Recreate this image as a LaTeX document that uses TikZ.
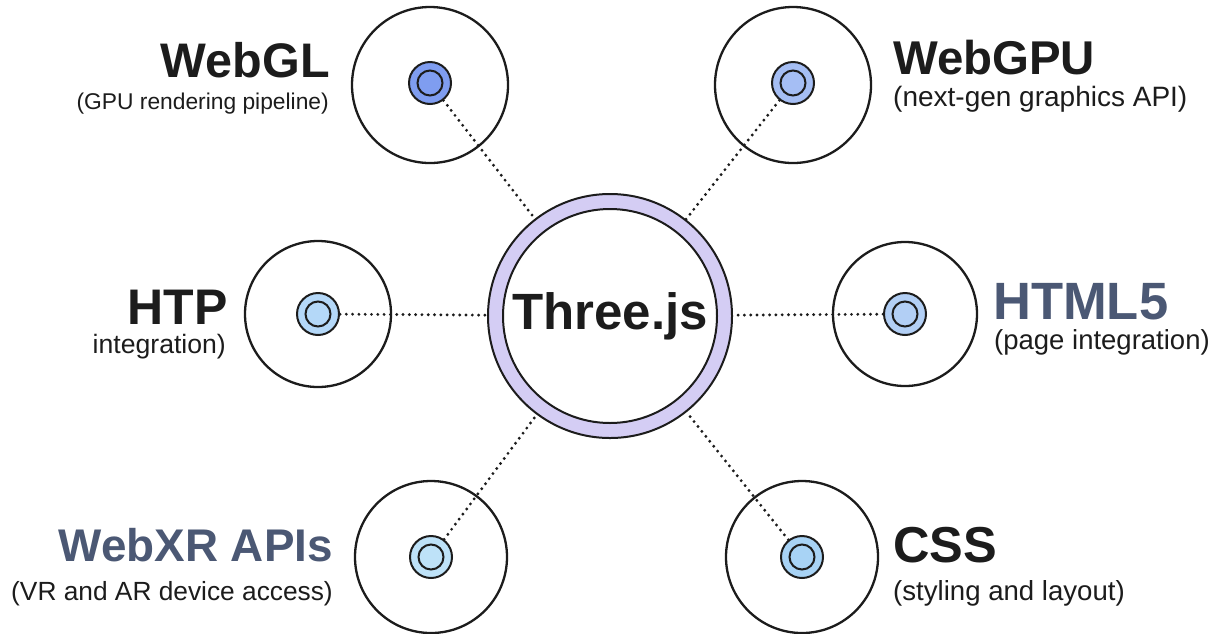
\documentclass[tikz,border=0pt]{standalone}
\usepackage{fontspec}
\setmainfont{Liberation Sans}
\definecolor{ink}{HTML}{1C1C1C}
\definecolor{slate}{HTML}{4B5874}
\definecolor{lavender}{HTML}{D4CDF4}
\definecolor{glblue}{HTML}{7F9DF0}
\definecolor{gpublue}{HTML}{A5BEF4}
\definecolor{htpblue}{HTML}{B4D8F8}
\definecolor{htmlblue}{HTML}{B2CFF5}
\definecolor{xrblue}{HTML}{BEE2F8}
\definecolor{cssblue}{HTML}{A8D3F5}
\tikzset{
  orbit/.style={circle, draw=ink, line width=2.3pt, minimum size=#1, inner sep=0pt},
  hub/.style={circle, draw=ink, line width=2pt, fill=#1, minimum size=42pt, inner sep=0pt},
  link/.style={draw=ink, line width=3.2pt, line cap=round, dash pattern=on 0pt off 6.3pt},
  title/.style={font=\fontsize{#1}{#1}\selectfont\bfseries, text=ink, inner sep=0pt, text depth=0pt},
  subtitle/.style={font=\fontsize{#1}{#1}\selectfont, text=ink, inner sep=0pt},
}
\newcommand{\hubring}[1]{\draw[ink, line width=2pt] (#1.center) circle[radius=12.5pt];}
\begin{document}
\begin{tikzpicture}[x=1pt,y=-1pt]
\useasboundingbox[fill=white] (0,0) rectangle (1212,633);

% outer orbits
\node[orbit=156pt] (oGL)   at (430,85)  {};
\node[orbit=156pt] (oGPU)  at (793,85)  {};
\node[orbit=146pt] (oHTP)  at (318,314) {};
\node[orbit=144pt] (oHTML) at (905,314) {};
\node[orbit=152pt] (oXR)   at (431,557) {};
\node[orbit=152pt] (oCSS)  at (802,557) {};

% central node
\node[circle, draw=ink, line width=2pt, fill=lavender, minimum size=244pt, inner sep=0pt] (core) at (610,316) {};
\node[circle, draw=ink, line width=2pt, fill=white, minimum size=214pt, inner sep=0pt,
      font=\fontsize{51}{51}\selectfont\bfseries, text=ink] (label) at (core) {Three.js};

% hubs
\node[hub=glblue]   (hGL)   at (430,83)  {};
\node[hub=gpublue]  (hGPU)  at (793,83)  {};
\node[hub=htpblue]  (hHTP)  at (318,314) {};
\node[hub=htmlblue] (hHTML) at (905,314) {};
\node[hub=xrblue]   (hXR)   at (431,557) {};
\node[hub=cssblue]  (hCSS)  at (802,557) {};
\hubring{hGL}\hubring{hGPU}\hubring{hHTP}\hubring{hHTML}\hubring{hXR}\hubring{hCSS}

% dotted connectors
\foreach \h in {hGL,hGPU,hHTP,hHTML,hXR,hCSS}
  \draw[link] (\h) -- (core);

% labels
\node[title=48.5, anchor=base east] (tGL) at (330,77) {WebGL};
\node[subtitle=22.8, anchor=base east] (sGL) at (329,109) {(GPU rendering pipeline)};

\node[title=47.4, anchor=base west] (tGPU) at (893,74) {WebGPU};
\node[subtitle=28, anchor=base west] (sGPU) at (893,106) {(next-gen graphics API)};

\node[title=50, anchor=base east] (tHTP) at (228,324) {HTP};
\node[subtitle=26.6, anchor=base east] (sHTP) at (226,353) {integration)};

\node[title=52.5, anchor=base west, text=slate] (tHTML) at (993,319) {HTML5};
\node[subtitle=27.5, anchor=base west] (sHTML) at (994,349) {(page integration)};

\node[title=45.8, anchor=base east, text=slate] (tXR) at (333,561) {WebXR APIs};
\node[subtitle=26.3, anchor=base east] (sXR) at (333,600) {(VR and AR device access)};

\node[title=50.5, anchor=base west] (tCSS) at (893,562) {CSS};
\node[subtitle=27.6, anchor=base west] (sCSS) at (893,600) {(styling and layout)};
\end{tikzpicture}
\end{document}
